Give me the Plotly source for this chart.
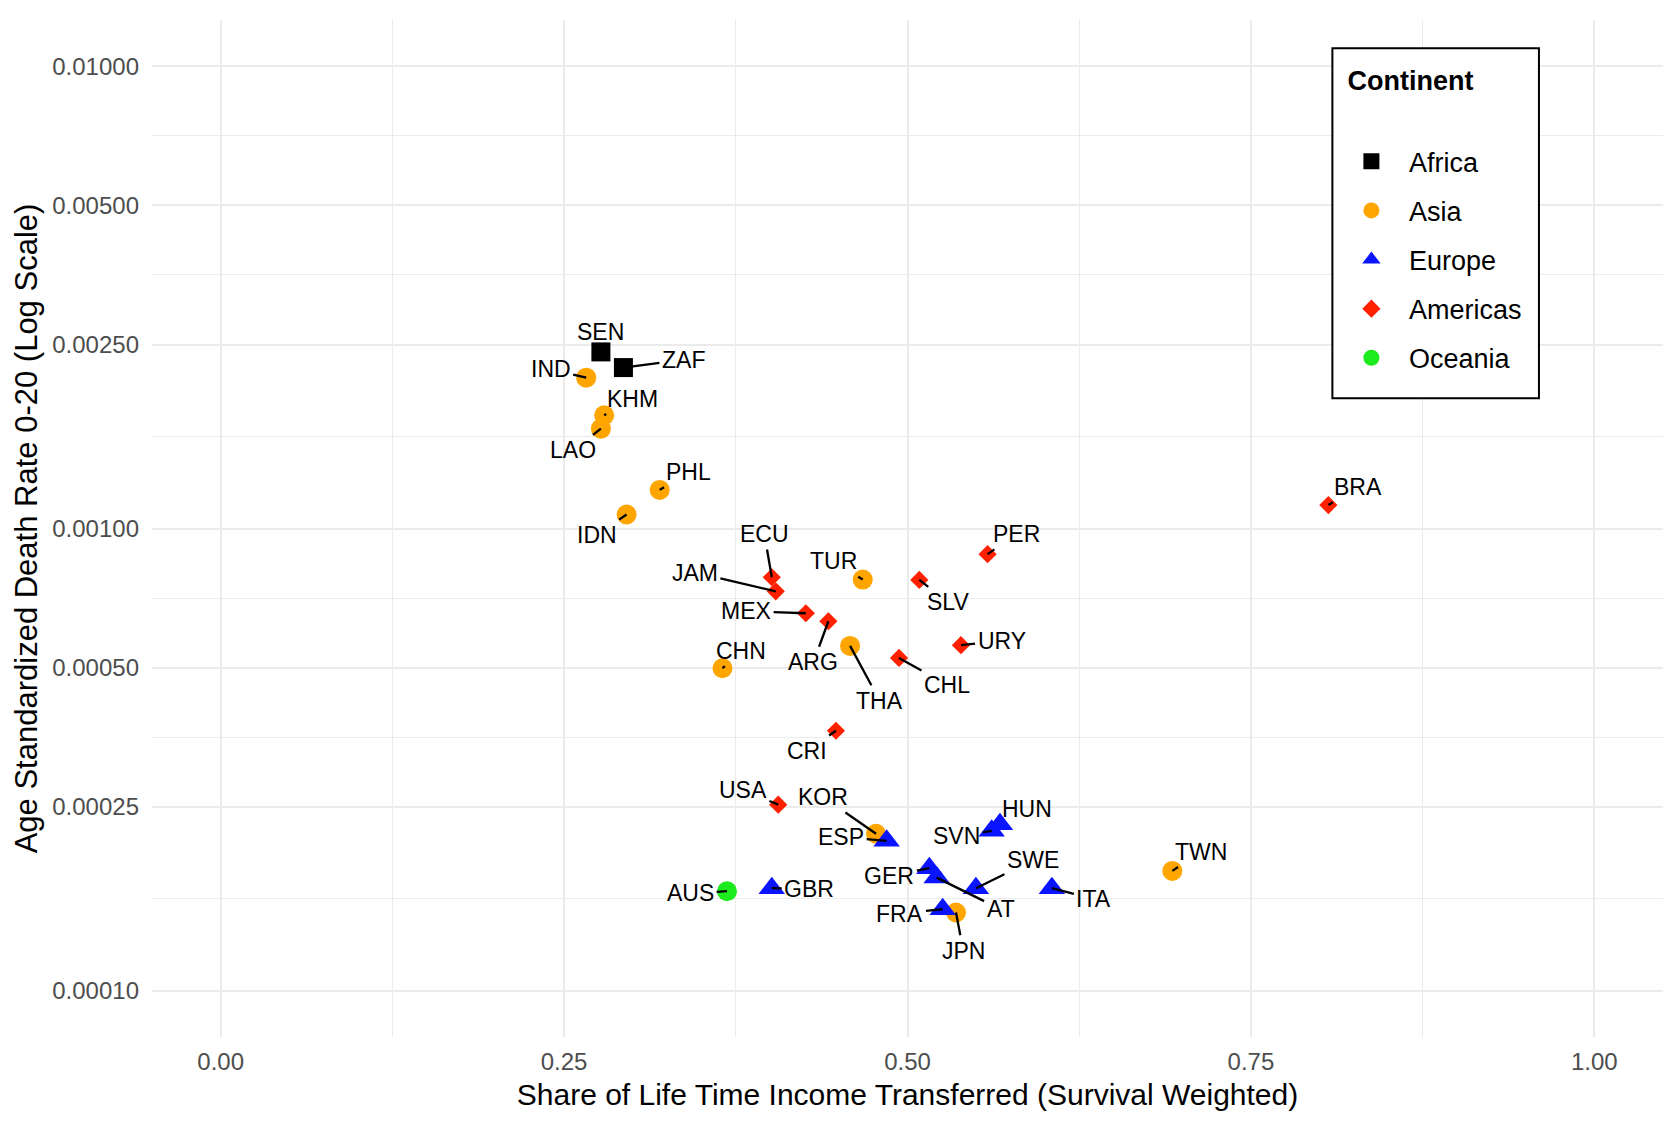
import math
import plotly.graph_objects as go

# ---------------- data ----------------
countries = ["SEN", "ZAF",
             "IND", "KHM", "LAO", "PHL", "IDN", "TUR", "THA", "CHN", "KOR", "JPN", "TWN",
             "ESP", "HUN", "SVN", "GER", "AT", "SWE", "ITA", "FRA", "GBR",
             "BRA", "PER", "ECU", "JAM", "SLV", "MEX", "ARG", "CHL", "URY", "CRI", "USA",
             "AUS"]
continents = ["Africa", "Africa",
              "Asia", "Asia", "Asia", "Asia", "Asia", "Asia", "Asia", "Asia", "Asia", "Asia", "Asia",
              "Europe", "Europe", "Europe", "Europe", "Europe", "Europe", "Europe", "Europe", "Europe",
              "Americas", "Americas", "Americas", "Americas", "Americas", "Americas", "Americas",
              "Americas", "Americas", "Americas", "Americas",
              "Oceania"]
share_transferred = [0.2768, 0.2932,
                     0.2661, 0.2792, 0.2768, 0.3196, 0.2955, 0.4674, 0.4582, 0.3653, 0.4771, 0.5353, 0.6928,
                     0.4848, 0.5673, 0.5613, 0.5159, 0.5212, 0.5498, 0.6051, 0.5256, 0.4012,
                     0.8064, 0.5583, 0.4012, 0.4041, 0.5086, 0.4260, 0.4424, 0.4938, 0.5389, 0.4479, 0.4059,
                     0.3686]
death_rate = [0.002410, 0.002229,
              0.002120, 0.001758, 0.001644, 0.001212, 0.001072, 0.0007754, 0.0005572, 0.0004985,
              0.0002186, 0.0001477, 0.0001817,
              0.0002110, 0.0002293, 0.0002218, 0.0001842, 0.0001757, 0.0001667, 0.0001667,
              0.0001501, 0.0001667,
              0.001124, 0.000880, 0.0007844, 0.0007314, 0.0007742, 0.0006557, 0.000630,
              0.0005248, 0.0005593, 0.0003652, 0.0002527,
              0.0001642]

continent_order = ["Africa", "Asia", "Europe", "Americas", "Oceania"]
x_breaks = [0, 0.25, 0.5, 0.75, 1.0]
x_labels = ["0.00", "0.25", "0.50", "0.75", "1.00"]
y_breaks = [0.0001, 0.00025, 0.0005, 0.001, 0.0025, 0.005, 0.01]
y_labels = ["0.00010", "0.00025", "0.00050", "0.00100", "0.00250", "0.00500", "0.01000"]

# ---------------- styles ----------------
styles = {
    "Africa":   dict(color="#000000", symbol="square", size=19),
    "Asia":     dict(color="#FFA500", symbol="circle", size=20),
    "Europe":   dict(color="#0A14FF", symbol="triangle-up", size=23),
    "Americas": dict(color="#FF2000", symbol="diamond", size=14),
    "Oceania":  dict(color="#1EEB1E", symbol="circle", size=20),
}

# label offsets (pixels, label centre relative to point)
label_offsets = {
    "SEN": (0, -20), "ZAF": (60, -8), "IND": (-35.5, -8.5), "KHM": (28.7, -16.7),
    "LAO": (-27.8, 21.7), "PHL": (28.9, -18.2), "IDN": (-30, 20.4), "TUR": (-29.4, -18.3),
    "THA": (29.7, 54.8), "CHN": (18.7, -17.7), "KOR": (-53, -36.7), "JPN": (7.3, 38.3),
    "TWN": (28.8, -19.3), "ESP": (-45.5, -4.1), "HUN": (26.7, -15), "SVN": (-35, 5),
    "GER": (-40, 8), "AT": (64, 31.7), "SWE": (57, -28), "ITA": (42, 11), "FRA": (-42.7, 4.4),
    "GBR": (37.5, 1.1), "BRA": (30, -18.2), "PER": (28.8, -20.3), "ECU": (-7.4, -43.3),
    "JAM": (-80.9, -18.8), "SLV": (28.8, 22.5), "MEX": (-59.7, -2), "ARG": (-15, 41),
    "CHL": (48, 26.8), "URY": (40.6, -4.2), "CRI": (-28.9, 20.3), "USA": (-35.3, -14.9),
    "AUS": (-36.4, 2.1),
}
no_segment = {"SEN"}

FONT = "Liberation Sans, Arial, Helvetica, sans-serif"

fig = go.Figure()
for cont in continent_order:
    xs = [share_transferred[k] for k in range(len(countries)) if continents[k] == cont]
    ys = [death_rate[k] for k in range(len(countries)) if continents[k] == cont]
    st = styles[cont]
    fig.add_trace(go.Scatter(
        x=xs, y=ys, mode="markers", name=cont, legendgroup=cont,
        marker=dict(color=st["color"], symbol=st["symbol"], size=st["size"],
                    line=dict(width=0)),
        hoverinfo="skip",
    ))

annotations = []
for k, c in enumerate(countries):
    dx, dy = label_offsets[c]
    ylog = math.log10(death_rate[k])  # annotations on log axes use log10 units
    if c in no_segment:
        annotations.append(dict(x=share_transferred[k], y=ylog, xref="x", yref="y",
                                text=c, showarrow=False, xshift=dx, yshift=-dy,
                                font=dict(size=23, color="black", family=FONT)))
    else:
        annotations.append(dict(x=share_transferred[k], y=ylog, xref="x", yref="y",
                                text=c, showarrow=True, ax=dx, ay=dy,
                                arrowhead=0, arrowwidth=2.3, arrowcolor="black", standoff=0,
                                borderpad=2,
                                font=dict(size=23, color="black", family=FONT)))

y_minor = [math.sqrt(y_breaks[i] * y_breaks[i + 1]) for i in range(len(y_breaks) - 1)]
x_minor = [(x_breaks[i] + x_breaks[i + 1]) / 2 for i in range(len(x_breaks) - 1)]

fig.update_layout(
    width=1676, height=1125,
    paper_bgcolor="white", plot_bgcolor="white",
    margin=dict(l=143.5, r=20.5, t=12, b=96, autoexpand=False),
    font=dict(family=FONT, color="black"),
    showlegend=True,
    legend=dict(
        x=0.7822, y=0.9767, xanchor="left", yanchor="top",
        bgcolor="rgba(0,0,0,0)", borderwidth=0,
        font=dict(size=27, family=FONT, color="black"),
        title=dict(text="<span style='font-size:21px'>&nbsp;&nbsp;</span>"
                        "<span style='font-size:27px'><b>Continent</b></span><br> ",
                   font=dict(size=36, family=FONT, color="black")),
        traceorder="grouped", tracegroupgap=11, itemwidth=65,
    ),
    annotations=annotations,
    shapes=[dict(type="rect", xref="paper", yref="paper",
                 x0=0.7812, x1=0.9179, y0=0.628, y1=0.9722,
                 fillcolor="white", line=dict(color="black", width=2), layer="above")],
)

fig.update_xaxes(
    range=[-0.05, 1.05], tickmode="array", tickvals=x_breaks, ticktext=x_labels,
    showgrid=True, gridcolor="#EBEBEB", gridwidth=2, zeroline=False, showline=False,
    ticks="", ticklabelstandoff=8,
    tickfont=dict(size=24, color="#4D4D4D", family=FONT),
    minor=dict(tickmode="array", tickvals=x_minor, showgrid=True, gridcolor="#EBEBEB", gridwidth=1, ticks=""),
    title=dict(text="Share of Life Time Income Transferred (Survival Weighted)",
               font=dict(size=30, color="black", family=FONT), standoff=9),
)
fig.update_yaxes(
    type="log", range=[-4.1, -1.9], tickmode="array", tickvals=y_breaks, ticktext=y_labels,
    showgrid=True, gridcolor="#EBEBEB", gridwidth=2, zeroline=False, showline=False,
    ticks="", ticklabelstandoff=12,
    tickfont=dict(size=24, color="#4D4D4D", family=FONT),
    minor=dict(tickmode="array", tickvals=y_minor, showgrid=True, gridcolor="#EBEBEB", gridwidth=1, ticks=""),
    title=dict(text="Age Standardized Death Rate 0-20 (Log Scale)",
               font=dict(size=31, color="black", family=FONT), standoff=5),
)

fig.write_html("out.html")
